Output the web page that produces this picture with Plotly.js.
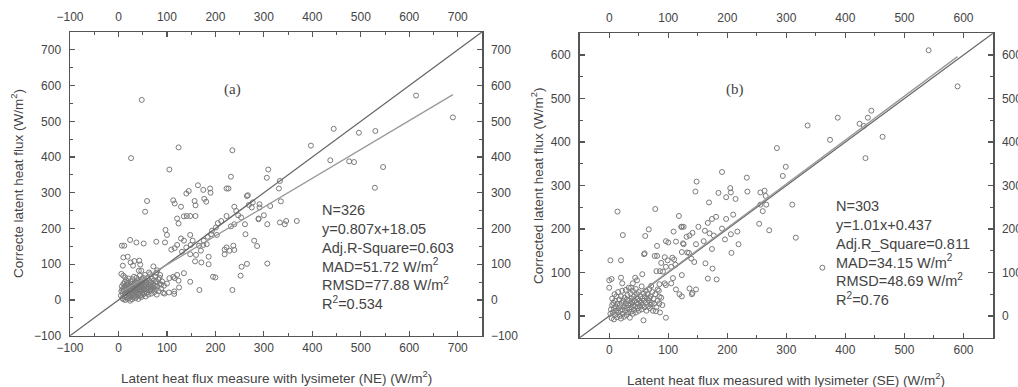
<!DOCTYPE html>
<html><head><meta charset="utf-8">
<script src="https://cdn.plot.ly/plotly-3.0.1.min.js"></script>
<style>html,body{margin:0;padding:0;background:#fff}#chart{width:1018px;height:387px}</style>
</head><body><div id="chart"></div>
<script>
// ---------- Panel (a): NE lysimeter ----------
const aPtsOuter = [
[48,560],[26,397],[124,427],[105,365],[235,419],[164,321],[140,298],[145,305],[175,308],[189,312],[190,300],[223,312],[227,312],[232,345],[267,293],[306,342],[309,365],[331,312],[333,333],[397,432],[444,479],[437,391],[476,388],[486,386],[496,468],[530,473],[546,372],[529,314],[614,572],[690,511],
[335,276],[277,273],[291,268],[291,259],[313,263],[300,237],[289,226],[307,212],[333,217],[343,212],[346,221],[368,221],[280,166],[286,151],
[59,277],[55,247],[113,279],[116,270],[129,261],[157,277],[159,265],[177,283],[181,275],[121,228],[135,234],[141,235],[148,235],[159,235],[124,214],[97,196],[100,182],[78,163],[96,161],[109,141],[116,145],[121,154],[129,172],[135,166],[148,182],[153,166],[149,154],[140,147],[148,128],[160,126],[170,138],[175,154],[184,177],[191,184],[193,194],[182,156],[203,182],[186,121],[186,100],[171,105],[158,108],[201,203],[205,215],[212,221],[232,206],[223,235],[239,261],[243,249],[247,237],[239,212],[253,231],[265,291],[269,266],[261,212],[275,259],[289,228],[262,184],[219,141],[223,147],[237,152],[239,140],[265,101],[254,93],[252,68],[307,102],[235,28],[167,28],[115,24],[115,17],[148,51],[135,75],[121,70],[116,61],[124,54],[125,35],[105,61],[113,65],[104,21],[95,18],[88,43],[100,46],[85,62],[80,83],[78,76],[72,94],[47,82],[63,77],
[7,152],[12,152],[24,168],[37,161],[52,158],[10,119],[19,121],[9,96],[25,105],[30,96],[33,109],[43,110],[45,99],[42,82],[6,73],[10,68],[14,63],
[195,65],[200,63],[219,128],[229,138],[166,152],[176,166],[131,135]
];
const aPtsCluster = [
[5,12],[6,25],[7,38],[8,5],[8,30],[9,18],[10,45],[10,2],[11,28],[12,35],[12,10],[13,50],[13,20],[14,0],[14,40],[15,15],[15,32],[16,25],[16,55],[17,8],[17,42],[18,18],[18,30],[19,3],[19,48],[20,22],[20,36],[21,12],[21,60],[22,28],[22,5],[23,40],[23,17],[24,33],[24,-2],[25,25],[25,52],[26,10],[26,44],[27,20],[27,31],[28,2],[28,38],[29,15],[29,58],[30,27],[30,46],[31,8],[31,35],[32,20],[32,65],[33,30],[33,12],[34,42],[34,25],[35,5],[35,50],[36,18],[36,34],[37,28],[37,62],[38,10],[38,40],[39,22],[39,48],[40,32],[40,15],[41,55],[41,3],[42,26],[42,38],[43,45],[43,18],[44,30],[44,68],[45,12],[45,36],[46,24],[46,52],[47,40],[47,8],[48,30],[48,58],[49,20],[49,44],[50,35],[50,14],[51,62],[52,28],[52,47],[53,18],[53,38],[54,55],[55,25],[55,70],[56,42],[56,10],[57,32],[58,50],[58,20],[59,38],[60,28],[60,62],[61,45],[62,15],[62,35],[63,55],[64,25],[65,42],[65,72],[66,30],[67,50],[68,18],[68,38],[69,60],[70,28],[71,45],[72,35],[73,55],[74,22],[75,40],[76,65],[77,30],[78,50],[79,15],[80,38],[82,58],[83,25],[85,45],[86,70],[88,32],[90,52],[92,20],[94,40]
];
const aRange = [-100, 750];
const aSlope = 0.807, aIntercept = 18.05;
const aStats = ["N=326","y=0.807x+18.05","Adj.R-Square=0.603","MAD=51.72 W/m<sup>2</sup>","RMSD=77.88 W/m<sup>2</sup>","R<sup>2</sup>=0.534"];
const aXTitle = "Latent heat flux measure with lysimeter (NE) (W/m<sup>2</sup>)";
const aYTitle = "Correcte latent heat flux (W/m<sup>2</sup>)";

// ---------- Panel (b): SE lysimeter ----------
const bPtsOuter = [
[541,611],[590,528],[444,472],[438,456],[424,442],[431,437],[387,456],[336,438],[374,405],[463,412],[434,363],[284,386],[299,343],[294,322],[191,331],[148,309],[146,286],[233,318],[234,286],[205,294],[206,284],[185,283],[198,273],[214,269],[169,261],[256,284],[263,288],[265,276],[256,256],[266,256],[260,241],[254,212],[271,197],[310,256],[316,180],[210,233],[198,223],[181,228],[174,223],[167,214],[151,205],[126,205],[122,205],[141,191],[136,185],[131,182],[162,196],[170,190],[177,185],[191,201],[217,194],[206,188],[196,176],[147,165],[160,172],[125,167],[174,154],[219,165],[132,146],
[14,240],[78,246],[23,186],[2,128],[20,128],[61,184],[67,199],[118,230],[123,205],[109,194],[96,172],[100,169],[113,171],[81,161],[126,165],[77,138],[81,138],[60,144],
[144,124],[163,121],[175,109],[167,86],[123,94],[105,113],[112,118],[96,113],[99,128],[88,122],[94,135],[110,130],[139,132],[123,147],[135,145],[107,134],[86,103],[91,102],[80,103],[94,75],[96,71],[136,63],[140,50],[119,50],[123,45],[113,61],[105,75],[108,87],[85,73],[82,61],[71,69],
[0,82],[4,85],[0,65],[20,88],[22,75],[47,82],[44,88],[56,96],[37,65],[40,75],[59,142],[182,84],[147,61],[141,53],[96,-4],[58,-10],[79,11],[70,26],[85,29],[68,41],[85,44],[361,111],[207,145]
];
const bPtsCluster = [
[2,5],[3,15],[4,-5],[5,25],[5,40],[6,8],[7,30],[8,-8],[8,18],[9,50],[10,3],[10,35],[11,22],[12,12],[12,45],[13,-3],[14,28],[15,8],[15,55],[16,18],[17,38],[18,0],[18,25],[19,12],[20,45],[20,-6],[21,30],[22,15],[22,58],[23,5],[24,35],[25,22],[25,-2],[26,42],[27,12],[28,28],[28,60],[29,2],[30,18],[30,38],[31,48],[32,8],[32,25],[33,65],[34,15],[34,35],[35,-4],[36,28],[36,52],[37,10],[38,40],[38,20],[39,32],[40,5],[40,58],[41,25],[42,45],[42,14],[43,35],[44,22],[45,62],[45,8],[46,30],[47,50],[48,18],[48,40],[49,28],[50,12],[50,55],[51,35],[52,22],[53,45],[54,30],[55,15],[55,68],[56,40],[57,25],[58,52],[59,35],[60,20],[60,45],[62,30],[62,58],[63,12],[64,40],[65,50],[66,22],[67,35],[68,62],[69,18],[70,45],[72,30],[73,55],[74,12],[75,40],[76,28],[78,50],[80,20],[82,35],[84,58],[86,8],[88,42],[90,25]
];
const bRange = [-50, 650];
const bSlope = 1.01, bIntercept = 0.437;
const bStats = ["N=303","y=1.01x+0.437","Adj.R_Square=0.811","MAD=34.15 W/m<sup>2</sup>","RMSD=48.69 W/m<sup>2</sup>","R<sup>2</sup>=0.76"];
const bXTitle = "Latent heat flux measured with lysimeter (SE) (W/m<sup>2</sup>)";
const bYTitle = "Corrected latent heat flux (W/m<sup>2</sup>)";

// ---------- build ----------
const W = 1018, H = 387;
const px = v => v / W, py = v => 1 - v / H;
const FONT = "Liberation Sans, Arial, sans-serif";
const AX = "#555", TXT = "#444", MK = "#7a7a7a";

function panel(pts, range, slope, icpt, xa, ya, xa2, ya2) {
  const xs = pts.map(p => p[0]), ys = pts.map(p => p[1]);
  const x0 = Math.min(...xs), x1 = Math.max(...xs);
  return [
    {type:"scatter", mode:"markers", x:xs, y:ys, xaxis:xa, yaxis:ya,
     marker:{symbol:"circle-open", size:5, color:MK, line:{width:1, color:MK}}, hoverinfo:"skip"},
    {type:"scatter", mode:"lines", x:range, y:range, xaxis:xa, yaxis:ya,
     line:{color:"#666", width:1.3}, hoverinfo:"skip"},
    {type:"scatter", mode:"lines", x:[x0, x1], y:[slope*x0+icpt, slope*x1+icpt], xaxis:xa, yaxis:ya,
     line:{color:"#999", width:1.3}, hoverinfo:"skip"},
    {type:"scatter", mode:"markers", x:[], y:[], xaxis:xa2, yaxis:ya2, hoverinfo:"skip"}
  ];
}

const aPts = aPtsOuter.concat(aPtsCluster);
const bPts = bPtsOuter.concat(bPtsCluster);
const data = panel(aPts, aRange, aSlope, aIntercept, "x", "y", "x2", "y2")
  .concat(panel(bPts, bRange, bSlope, bIntercept, "x3", "y3", "x4", "y4"));

function axis(extra) {
  return Object.assign({
    showline:true, linecolor:AX, linewidth:1.5, mirror:false,
    ticks:"inside", ticklen:5, tickwidth:1.2, tickcolor:AX,
    minor:{ticks:"inside", ticklen:3, tickwidth:1, tickcolor:AX, dtick:50, showgrid:false},
    showgrid:false, zeroline:false, dtick:100, tick0:0, fixedrange:true,
    tickfont:{family:FONT, size:12, color:TXT}
  }, extra);
}

const aDomX = [px(70), px(482)], aDomY = [py(335.7), py(32)];
const bDomX = [px(579.7), px(993)], bDomY = [py(337.7), py(33.3)];

function note(x, y, text, size, extra) {
  return Object.assign({xref:"paper", yref:"paper", x:px(x), y:py(y), text:text, showarrow:false,
    xanchor:"center", yanchor:"middle", font:{family:FONT, size:size, color:TXT}}, extra || {});
}
const serif = {family:"Liberation Serif, Times New Roman, serif", size:15, color:TXT};

const layout = {
  width:W, height:H, margin:{l:0, r:0, t:0, b:0},
  paper_bgcolor:"#fff", plot_bgcolor:"rgba(0,0,0,0)", showlegend:false,
  xaxis:  axis({domain:aDomX, range:aRange, anchor:"y", side:"bottom", ticklabelstandoff:0}),
  yaxis:  axis({domain:aDomY, range:aRange, anchor:"x", side:"left", ticklabelstandoff:5}),
  xaxis2: axis({domain:aDomX, range:aRange, anchor:"y", side:"top", overlaying:"x", ticklabelstandoff:5}),
  yaxis2: axis({domain:aDomY, range:aRange, anchor:"x", side:"right", overlaying:"y", ticklabelstandoff:5}),
  xaxis3: axis({domain:bDomX, range:bRange, anchor:"y3", side:"bottom", ticklabelstandoff:0}),
  yaxis3: axis({domain:bDomY, range:bRange, anchor:"x3", side:"left", ticklabelstandoff:5}),
  xaxis4: axis({domain:bDomX, range:bRange, anchor:"y3", side:"top", overlaying:"x3", ticklabelstandoff:5}),
  yaxis4: axis({domain:bDomY, range:bRange, anchor:"x3", side:"right", overlaying:"y3", ticklabelstandoff:5}),
  annotations: [
    note(232, 90, "(a)", 15, {font:serif}),
    note(735, 90, "(b)", 15, {font:serif}),
    note(320, 256.5, aStats.join("<br>"), 14.5, {xanchor:"left", align:"left"}),
    note(834, 252.5, bStats.join("<br>"), 14.5, {xanchor:"left", align:"left"}),
    note(276, 377, aXTitle, 13.5),
    note(786, 379, bXTitle, 13.5),
    note(17, 184, aYTitle, 13.5, {textangle:-90}),
    note(537, 186, bYTitle, 13.5, {textangle:-90})
  ]
};

Plotly.newPlot("chart", data, layout, {staticPlot:true, displayModeBar:false});
</script>
</body></html>
